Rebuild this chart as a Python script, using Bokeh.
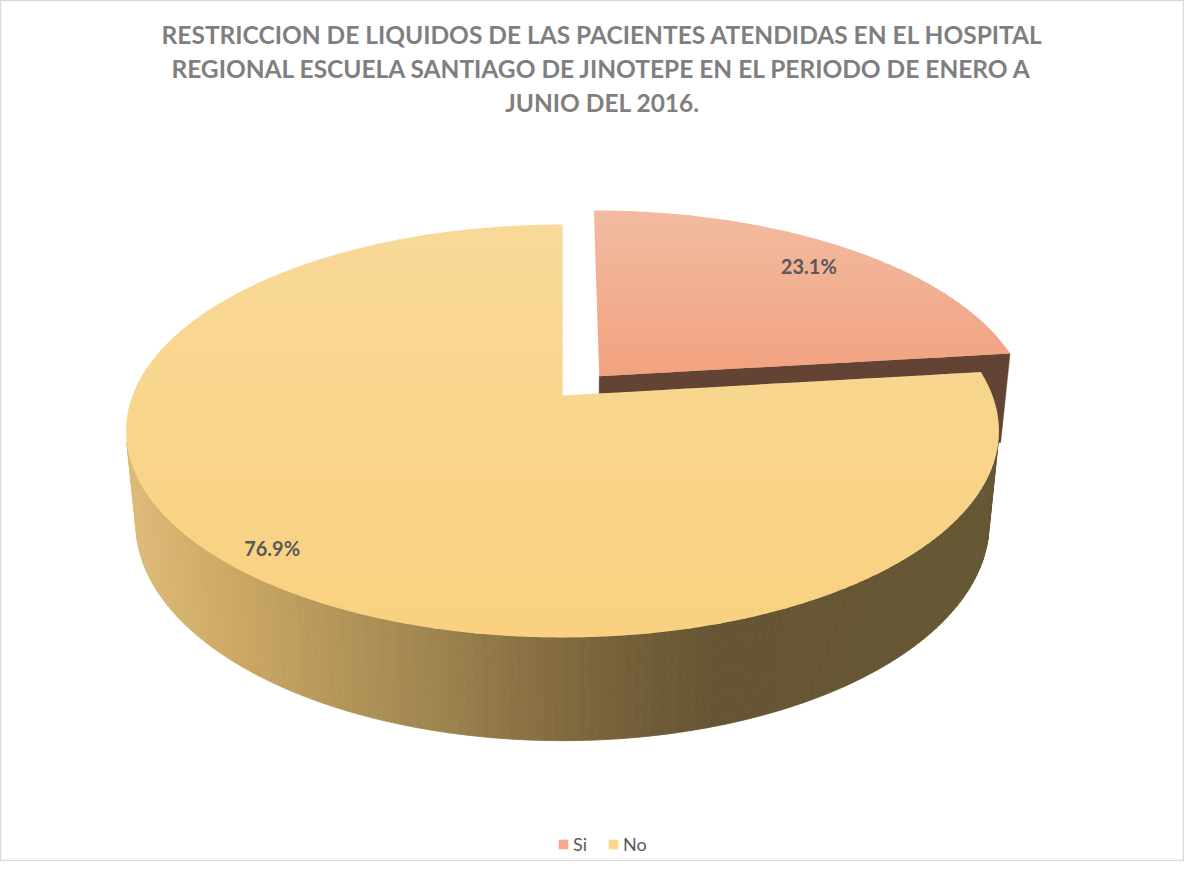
import numpy as np
from bokeh.plotting import figure
from bokeh.models import Range1d, ColumnDataSource, Legend, LegendItem
from bokeh.core.properties import value
from bokeh.embed import file_html
from bokeh.resources import INLINE

# ---------------- data ----------------
categories = ["Si", "No"]
percent = [23.1, 76.9]
label_text = ["23.1%", "76.9%"]
title_lines = [
    "RESTRICCION DE LIQUIDOS DE LAS PACIENTES ATENDIDAS EN EL HOSPITAL",
    "REGIONAL ESCUELA SANTIAGO DE JINOTEPE EN EL PERIODO DE ENERO A",
    "JUNIO DEL 2016.",
]

# ---------------- styling / layout ----------------
explode = [0.131, 0.0]
label_radius = [0.84, 0.90]
top_grad = [  # (y, rgb) vertical gradient for each slice top face
    [(216, (242, 187, 161)), (383, (242, 162, 128))],
    [(232, (249, 217, 152)), (650, (249, 209, 127))],
]
legend_colors = ["#F3AB8C", "#FDD68A"]
radial_color = "#634334"
wall_grad = [(132, (221, 187, 121)), (230, (206, 169, 101)), (330, (183, 152, 91)),
             (430, (160, 134, 80)), (530, (138, 114, 68)), (630, (117, 96, 57)),
             (720, (102, 85, 51)), (1020, (101, 87, 52))]

W, H = 1184, 861
CX, CY = 570.0, 403.0
FOCAL = 2214.0
DIST = 5.15
S_T, C_T = 0.466, np.sqrt(1 - 0.466 ** 2)
THICK = 0.245


def project(X, Z, Y):
    depth = DIST + Z * C_T - Y * S_T
    sx = CX + FOCAL * X / depth
    sy = CY - FOCAL * (Y * C_T + Z * S_T) / depth
    return sx, sy


def interp_color(stops, v):
    xs = [s[0] for s in stops]
    rgb = [np.interp(v, xs, [s[1][k] for s in stops]) for k in range(3)]
    return "#%02x%02x%02x" % tuple(int(round(c)) for c in rgb)


def clip_half(poly, y0, keep_above):
    out = []
    n = len(poly)
    for i in range(n):
        cur, prev = poly[i], poly[i - 1]
        cin = cur[1] >= y0 if keep_above else cur[1] <= y0
        pin = prev[1] >= y0 if keep_above else prev[1] <= y0
        if cin != pin:
            t = (y0 - prev[1]) / (cur[1] - prev[1])
            out.append((prev[0] + t * (cur[0] - prev[0]), y0))
        if cin:
            out.append(cur)
    return out


p = figure(width=W, height=H, output_backend="svg", toolbar_location=None,
           x_range=Range1d(8, 8 + W), y_range=Range1d(8 + H, 8),
           x_axis_type=None, y_axis_type=None, min_border=0)
p.grid.visible = False
p.outline_line_color = "#D9D9D9"
p.outline_line_width = 1.5
p.background_fill_color = "white"
p.border_fill_color = "white"

cam = np.array([0.0, -DIST * C_T])  # camera position in (X, Z) plane

total = sum(percent)
cum = 0.0
slices = []
for i, v in enumerate(percent):
    t0 = 90 - cum / total * 360
    t1 = 90 - (cum + v) / total * 360
    tm = (t0 + t1) / 2
    cum += v
    ox = explode[i] * np.cos(np.radians(tm))
    oz = explode[i] * np.sin(np.radians(tm))
    slices.append(dict(i=i, t0=t0, t1=t1, tm=tm, ox=ox, oz=oz))

order = sorted(slices, key=lambda d: -np.sin(np.radians(d["tm"])))

for sl in order:
    i, t0, t1, ox, oz = sl["i"], sl["t0"], sl["t1"], sl["ox"], sl["oz"]
    # radial faces
    for ang, nang in [(t1, t1 - 90), (t0, t0 + 90)]:
        n = np.array([np.cos(np.radians(nang)), np.sin(np.radians(nang))])
        d = np.dot(n, cam - np.array([ox, oz]))
        if d > 0.5:
            rx, rz = ox + np.cos(np.radians(ang)), oz + np.sin(np.radians(ang))
            pts = [project(ox, oz, 0), project(rx, rz, 0), project(rx, rz, -THICK), project(ox, oz, -THICK)]
            p.patch([q[0] for q in pts], [q[1] for q in pts], fill_color=radial_color,
                    line_color=radial_color, line_width=0.5)
    # outer wall strips
    ts = np.linspace(t0, t1, int(abs(t0 - t1)) + 2)
    wx, wy, wc = [], [], []
    for a, b in zip(ts[:-1], ts[1:]):
        m = np.radians((a + b) / 2)
        vis = -1 - ox * np.cos(m) - (DIST * C_T + oz) * np.sin(m)
        if vis <= 0:
            continue
        pa = (ox + np.cos(np.radians(a)), oz + np.sin(np.radians(a)))
        pb = (ox + np.cos(np.radians(b)), oz + np.sin(np.radians(b)))
        q = [project(pa[0], pa[1], 0), project(pb[0], pb[1], 0),
             project(pb[0], pb[1], -THICK), project(pa[0], pa[1], -THICK)]
        wx.append([z[0] for z in q])
        wy.append([z[1] for z in q])
        wc.append(interp_color(wall_grad, (q[0][0] + q[1][0]) / 2))
    if wx:
        p.patches("xs", "ys", fill_color="c", line_color="c", line_width=0.8,
                  source=ColumnDataSource(dict(xs=wx, ys=wy, c=wc)))
    # top face with vertical gradient (overlapping bands, no stroke)
    arc = np.radians(np.linspace(t0, t1, int(abs(t0 - t1)) * 2 + 2))
    poly = [project(ox, oz, 0)] + [project(ox + np.cos(a), oz + np.sin(a), 0) for a in arc]
    ys_all = [q[1] for q in poly]
    ymin, ymax = min(ys_all), max(ys_all)
    nb = int((ymax - ymin) / 5) + 1
    edges = np.linspace(ymin, ymax, nb + 1)
    bx, by, bc = [], [], []
    for k, (y0, y1) in enumerate(zip(edges[:-1], edges[1:])):
        hi = y1 + 1.0 if k < nb - 1 else y1
        part = clip_half(clip_half(poly, y0, True), hi, False)
        if len(part) < 3:
            continue
        bx.append([q[0] for q in part])
        by.append([q[1] for q in part])
        bc.append(interp_color(top_grad[i], (y0 + y1) / 2))
    p.patches("xs", "ys", fill_color="c", line_color=None,
              source=ColumnDataSource(dict(xs=bx, ys=by, c=bc)))

# data labels
lx, ly = [], []
for sl in slices:
    r = label_radius[sl["i"]]
    m = np.radians(sl["tm"])
    sx, sy = project(sl["ox"] + r * np.cos(m), sl["oz"] + r * np.sin(m), 0)
    lx.append(sx)
    ly.append(sy)
p.text(x=lx, y=ly, text=label_text, text_align="center", text_baseline="middle",
       text_font=value("Lato"), text_font_style="bold", text_font_size="20px",
       text_color="#595959")

# title
p.text(x=[610] * len(title_lines), y=[42, 76, 110], text=title_lines,
       text_align="center", text_baseline="middle", text_font=value("Lato"),
       text_font_style="bold", text_font_size="24.5px", text_color="#7F7F7F")

# legend (dummy quads placed outside the visible range)
items = []
for cat, col in zip(categories, legend_colors):
    r = p.quad(left=[-1000], right=[-990], bottom=[-1000], top=[-990],
               fill_color=col, line_color=None)
    items.append(LegendItem(label=cat, renderers=[r]))
legend = Legend(items=items, orientation="horizontal", location=(557, 6),
                glyph_width=12, glyph_height=12, label_standoff=4, spacing=14,
                padding=0, margin=0, border_line_color=None, background_fill_alpha=0,
                label_text_font="Lato", label_text_font_size="18px",
                label_text_color="#595959")
p.add_layout(legend)

open("out.html", "w").write(file_html(p, INLINE))
